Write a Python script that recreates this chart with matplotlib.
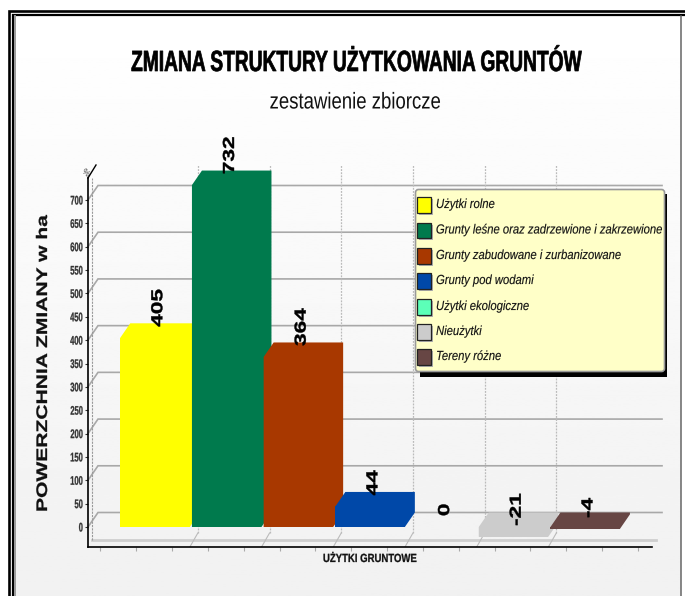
import numpy as np
import matplotlib
matplotlib.use('Agg')
import matplotlib.pyplot as plt
from matplotlib.patches import Polygon, Rectangle, FancyBboxPatch
from matplotlib.patheffects import AbstractPathEffect
from matplotlib.transforms import Affine2D

W, H = 685, 596

categories = ['Użytki rolne', 'Grunty leśne oraz zadrzewione i zakrzewione',
              'Grunty zabudowane i zurbanizowane', 'Grunty pod wodami',
              'Użytki ekologiczne', 'Nieużytki', 'Tereny różne']
values = [405, 732, 364, 44, 0, -21, -4]
colors = ['#ffff00', '#007a4d', '#a83800', '#0048a8', '#5cffb8', '#cccccc', '#674644']
y_ticks = np.arange(0, 701, 50)
grid_values = np.arange(0, 701, 100)

SANS = ['Liberation Sans', 'DejaVu Sans']


# brak czcionki waskiej: sciskamy tekst wzdluz linii pisma
class Squeeze(AbstractPathEffect):
    def __init__(self, sx, anchor=0.5, bold=0.0):
        super().__init__()
        self.sx = sx
        self.anchor = anchor
        self.bold = bold

    def draw_path(self, renderer, gc, tpath, affine, rgbFace=None):
        ext = tpath.get_extents()
        cx = ext.x0 + self.anchor * ext.width
        tr = Affine2D().translate(-cx, 0).scale(self.sx, 1).translate(cx, 0)
        gc0 = renderer.new_gc()
        gc0.copy_properties(gc)
        if self.bold > 0:
            gc0.set_linewidth(self.bold)
            gc0.set_foreground(rgbFace)
        renderer.draw_path(gc0, tpath, tr + affine, rgbFace)
        gc0.restore()


fig = plt.figure(figsize=(W / 100, H / 100), dpi=100)

# warstwa tla w pikselach
bg = fig.add_axes([0, 0, 1, 1], zorder=0)
grad = np.linspace(1.0, 0.945, 256).reshape(-1, 1)
bg.imshow(grad, extent=(16, 681, H, 16), cmap='gray', vmin=0, vmax=1, aspect='auto')
bg.set_xlim(0, W)
bg.set_ylim(H, 0)
bg.axis('off')
bg.plot([9.5, 9.5, W], [H, 10.5, 10.5], color='black', lw=1.9, solid_joinstyle='miter')
bg.plot([13, 13, W], [H, 14.5, 14.5], color='black', lw=1.6, solid_joinstyle='miter')
bg.plot([15, 15], [H, 16], color='#999999', lw=1.4)
bg.plot([681.5, 681.5], [16, H], color='#666666', lw=1.1)

bg.text(343, 63, 'ZMIANA STRUKTURY UŻYTKOWANIA GRUNTÓW', family=SANS, weight='bold',
        fontsize=21, ha='center', va='center', color='black',
        path_effects=[Squeeze(0.658, 0.557, 0.5)])
bg.text(355, 102, 'zestawienie zbiorcze', family=SANS, fontsize=16.5,
        ha='center', va='center', color='#111111', path_effects=[Squeeze(0.81)])
bg.text(43, 363.5, 'POWERZCHNIA ZMIANY w ha', family=SANS, weight='bold',
        fontsize=11, rotation=90, ha='center', va='center', color='#111111',
        path_effects=[Squeeze(1.377, 0.5, 0.2)])
bg.text(369.5, 559, 'UŻYTKI GRUNTOWE', family=SANS, weight='bold', fontsize=8.5,
        ha='center', va='center', color='#111111', path_effects=[Squeeze(0.81, 0.5, 0.2)])
bg.text(85, 173, '%', family=SANS, weight='bold', fontsize=6.5, rotation=-40,
        ha='center', va='center', color='#777777')

# glowny wykres
left, right, bottom, top = 88, 652, 547, 165
ax = fig.add_axes([left / W, 1 - bottom / H, (right - left) / W, (bottom - top) / H], zorder=1)
ax.patch.set_alpha(0)
px_x = 71.7
px_y = 327 / 700
ax.set_xlim((left - 155) / px_x, (right - 155) / px_x)
ax.set_ylim((527 - bottom) / px_y, (527 - top) / px_y)
dx = 10 / px_x
dy = 14.5 / px_y
width = 69.5 / px_x
x0, x1 = ax.get_xlim()
y0, y1 = ax.get_ylim()

# sciana tylna
for v in grid_values:
    ax.plot([x0, x0 + dx, (662 - 155) / px_x], [v, v + dy, v + dy], color='#a8a8a8',
            lw=1.2, clip_on=False, zorder=1, solid_joinstyle='miter')

floor_y = y0 + 7 / px_y
ax.plot([x0 + 4 / px_x, (656 - 155) / px_x], [floor_y, floor_y], color='#cfcfcf', lw=2,
        clip_on=False, zorder=1)
ax.plot([x0 + 4 / px_x] * 2, [floor_y, y1 - 13 / px_y], color='#999999',
        lw=0.8, ls=(0, (2, 1)), zorder=1)

majors = np.arange(1, 7) - 0.5 - 0.014
for m in majors:
    ax.plot([m, m + 8 / px_x], [y0, y0 + 14 / px_y], color='#bbbbbb', lw=0.8, zorder=1)
    ax.plot([m + 8 / px_x] * 2, [y0 + 14 / px_y, y1], color='#bbbbbb',
            lw=0.9, ls=(0, (1.5, 1)), zorder=1)

for i, v in enumerate(values):
    if v == 0:
        continue
    c = colors[i]
    xl, xr = i - width / 2, i + width / 2
    t = max(v, 0)
    b = min(v, 0)
    ax.add_patch(Polygon([(xl, b), (xl, t), (xl + dx, t + dy), (xr + dx, t + dy),
                          (xr + dx, b + dy), (xr, b)], closed=True,
                         fc=c, ec='none', zorder=3 + i))
    ax.bar(i, v, width=width, color=c, linewidth=0, zorder=3 + i)

for i, v in enumerate(values):
    ax.annotate(str(v), (i, v), xytext=(2, 8), textcoords='offset points',
                rotation=90, ha='center', va='bottom', family=SANS, weight='bold',
                fontsize=11.5, color='black', zorder=20, annotation_clip=False,
                path_effects=[Squeeze(1.42, 0, 0.3)])

for s in ['top', 'right']:
    ax.spines[s].set_visible(False)
ax.spines['left'].set_linewidth(1.2)
ax.spines['bottom'].set_linewidth(1.2)
ax.spines['left'].set_bounds(y0, y1 - 13 / px_y)
ax.plot([x0, x0 + 8 / px_x], [y1 - 13 / px_y, y1], color='black', lw=1.0, clip_on=False, zorder=5)

ax.set_yticks(y_ticks)
ax.set_yticklabels([str(t) for t in y_ticks], family=SANS, weight='bold', fontsize=9,
                   color='#333333')
for lab in ax.get_yticklabels():
    lab.set_path_effects([Squeeze(0.6, 1, 0.2)])
ax.tick_params(axis='y', length=2, width=0.8, pad=1.5, color='#333333')
groups = np.append(np.arange(0, 7) - 0.5 - 0.014, 6.5 - 0.014)
minor = np.concatenate([[m - 18 / px_x, m + 18 / px_x] for m in groups])
ax.set_xticks(minor[minor < x1])
ax.set_xticklabels([])
ax.tick_params(axis='x', length=3, width=0.8, color='#aaaaaa')

# legenda
ov = fig.add_axes([0, 0, 1, 1], zorder=2)
ov.set_xlim(0, W)
ov.set_ylim(H, 0)
ov.axis('off')
ov.add_patch(Rectangle((420, 194), 247.5, 182.5, fc='black', ec='none'))
ov.add_patch(FancyBboxPatch((415.5, 189.5), 249, 182, boxstyle='round,pad=0,rounding_size=3',
                            fc='#ffffc8', ec='#999999', lw=1.2))
row_y = [205, 230.5, 256, 281, 307, 332, 357]
leg_sx = 0.853
rend = fig.canvas.get_renderer()
for name, c, y in zip(categories, colors, row_y):
    ov.add_patch(Rectangle((419.5, y - 6), 13.5, 15.5, fc='#b0b0b0', ec='none'))
    ov.add_patch(Rectangle((417.5, y - 8), 13.5, 15.5, fc=c, ec='#222222', lw=0.9))
    txt = ov.text(436, y, name, family=SANS, style='italic', fontsize=9.5, ha='center', va='center',
                  color='#111111', path_effects=[Squeeze(leg_sx, 0.5, 0.1)])
    w = txt.get_window_extent(rend).width
    txt.set_x(436 + leg_sx * w / 2)

fig.savefig('out.png', dpi=100)
